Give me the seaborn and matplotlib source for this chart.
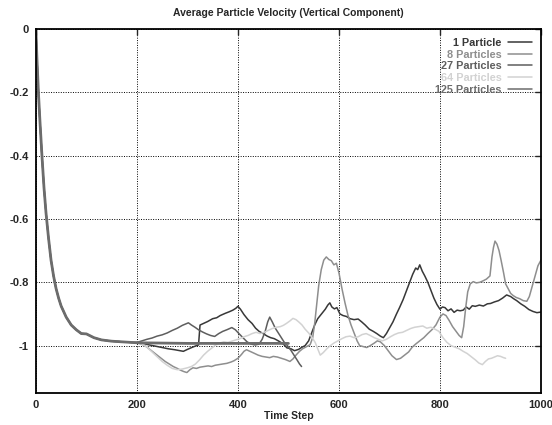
import matplotlib
matplotlib.use("Agg")
import matplotlib.pyplot as plt
import seaborn as sns
import numpy as np
import pandas as pd

# shared start-up transient (all runs coincide up to ~t=190)
decay_steps = [0, 2, 5, 8, 12, 16, 20, 25, 30, 35, 40, 45, 50, 60, 70, 80, 90,
               100, 115, 130, 150, 170, 190]
decay_vel = [0.0, -0.09, -0.2, -0.29, -0.4, -0.5, -0.58, -0.66, -0.73, -0.78,
             -0.82, -0.85, -0.875, -0.91, -0.935, -0.95, -0.962, -0.963,
             -0.975, -0.982, -0.986, -0.988, -0.99]

steps_1 = [200, 212, 225, 238, 250, 262, 275, 285, 292, 300, 310, 318, 322, 325,
           332, 340, 350, 358, 365, 375, 383, 390, 396, 400, 405, 412, 420, 428,
           435, 442, 450, 458, 465, 472, 480, 490, 497, 505, 512, 520, 527, 533,
           540, 546, 552, 558, 563, 568, 573, 578, 582, 586, 591, 596, 602, 608,
           615, 622, 630, 638, 645, 652, 660, 668, 675, 682, 688, 694, 700, 707,
           714, 720, 727, 733, 740, 746, 752, 756, 760, 765, 770, 776, 782, 788,
           794, 800, 805, 810, 816, 822, 828, 834, 840, 846, 852, 858, 864, 870,
           878, 886, 894, 900, 908, 916, 924, 932, 940, 946, 952, 960, 968, 976,
           984, 992, 1000]
vel_1 = [-0.990, -0.993, -0.998, -1.002, -1.006, -1.010, -1.013, -1.016, -1.018,
         -1.012, -1.005, -1.000, -0.998, -0.935, -0.930, -0.924, -0.915, -0.912,
         -0.905, -0.898, -0.893, -0.888, -0.882, -0.876, -0.885, -0.902, -0.918,
         -0.930, -0.945, -0.955, -0.962, -0.970, -0.975, -0.978, -0.985, -0.995,
         -1.007, -1.010, -1.016, -1.012, -1.005, -1.000, -0.985, -0.960, -0.935,
         -0.915, -0.905, -0.895, -0.885, -0.872, -0.865, -0.878, -0.884, -0.880,
         -0.900, -0.905, -0.908, -0.915, -0.918, -0.916, -0.925, -0.935, -0.948,
         -0.955, -0.962, -0.970, -0.975, -0.962, -0.945, -0.925, -0.900, -0.880,
         -0.855, -0.830, -0.800, -0.775, -0.755, -0.760, -0.745, -0.765, -0.780,
         -0.800, -0.825, -0.850, -0.870, -0.885, -0.878, -0.880, -0.890, -0.884,
         -0.895, -0.888, -0.890, -0.888, -0.878, -0.885, -0.874, -0.876, -0.872,
         -0.875, -0.868, -0.867, -0.862, -0.858, -0.850, -0.840, -0.845, -0.852,
         -0.858, -0.868, -0.876, -0.886, -0.892, -0.896, -0.894]

steps_8 = [200, 208, 216, 224, 232, 240, 248, 256, 264, 272, 280, 287, 293, 299,
           305, 311, 318, 325, 333, 341, 348, 355, 362, 370, 378, 386, 392, 400,
           407, 412, 417, 424, 432, 440, 448, 456, 463, 470, 478, 486, 494, 503,
           509, 515, 522, 528, 535, 543, 548, 552, 556, 560, 565, 570, 575, 580,
           585, 590, 595, 600, 606, 612, 618, 624, 630, 636, 641, 648, 655, 662,
           670, 676, 682, 690, 697, 705, 714, 722, 730, 738, 745, 752, 760, 768,
           776, 784, 792, 800, 806, 812, 818, 825, 832, 838, 843, 847, 851, 855,
           860, 866, 872, 879, 886, 892, 899, 903, 906, 909, 913, 917, 921, 926,
           930, 935, 940, 945, 951, 958, 965, 972, 977, 981, 985, 989, 994, 1000]
vel_8 = [-0.990, -0.995, -1.000, -1.010, -1.020, -1.030, -1.040, -1.050, -1.058,
         -1.066, -1.072, -1.078, -1.082, -1.085, -1.076, -1.070, -1.072, -1.068,
         -1.066, -1.064, -1.066, -1.062, -1.060, -1.058, -1.056, -1.052, -1.048,
         -1.040, -1.028, -1.018, -1.013, -1.018, -1.024, -1.030, -1.034, -1.036,
         -1.038, -1.034, -1.036, -1.040, -1.044, -1.050, -1.042, -1.030, -1.018,
         -1.010, -1.004, -0.997, -0.975, -0.930, -0.870, -0.810, -0.760, -0.730,
         -0.720, -0.728, -0.732, -0.745, -0.740, -0.770, -0.820, -0.865, -0.905,
         -0.935, -0.960, -0.985, -1.000, -1.003, -1.006, -1.000, -0.992, -0.985,
         -0.988, -1.000, -1.015, -1.032, -1.044, -1.040, -1.030, -1.020, -1.005,
         -0.995, -0.985, -0.975, -0.962, -0.950, -0.935, -0.910, -0.900, -0.905,
         -0.920, -0.940, -0.955, -0.968, -0.975, -0.940, -0.880, -0.830, -0.805,
         -0.798, -0.802, -0.800, -0.795, -0.790, -0.780, -0.720, -0.690, -0.670,
         -0.680, -0.700, -0.730, -0.770, -0.805, -0.820, -0.835, -0.842, -0.848,
         -0.852, -0.858, -0.860, -0.845, -0.822, -0.800, -0.775, -0.748, -0.730]

steps_27 = [200, 210, 220, 230, 240, 250, 260, 270, 280, 290, 296, 302, 308, 315,
            322, 330, 338, 346, 354, 362, 370, 378, 388, 395, 402, 410, 418, 426,
            434, 442, 448, 454, 459, 463, 468, 474, 480, 486, 492, 498, 505, 511,
            517, 522, 526]
vel_27 = [-0.990, -0.985, -0.980, -0.976, -0.970, -0.966, -0.960, -0.952, -0.945,
          -0.936, -0.932, -0.928, -0.935, -0.942, -0.950, -0.957, -0.963, -0.968,
          -0.971, -0.962, -0.955, -0.950, -0.943, -0.950, -0.962, -0.975, -0.988,
          -0.995, -0.998, -0.995, -0.980, -0.955, -0.925, -0.910, -0.925, -0.945,
          -0.960, -0.975, -0.990, -1.000, -1.015, -1.030, -1.045, -1.058, -1.066]

steps_64 = [200, 210, 220, 230, 240, 250, 260, 270, 280, 290, 300, 308, 316, 324,
            332, 340, 348, 356, 364, 372, 380, 388, 396, 404, 412, 420, 428, 436,
            444, 452, 460, 468, 476, 484, 490, 496, 503, 509, 515, 521, 527, 533,
            540, 547, 553, 558, 563, 569, 576, 583, 590, 598, 606, 614, 622, 630,
            638, 646, 654, 662, 670, 678, 686, 694, 702, 710, 718, 726, 734, 742,
            750, 758, 766, 774, 782, 790, 798, 806, 814, 822, 830, 838, 846, 854,
            862, 870, 877, 884, 890, 896, 902, 908, 914, 920, 926, 930]
vel_64 = [-0.990, -0.995, -1.005, -1.020, -1.035, -1.050, -1.062, -1.072, -1.076,
          -1.074, -1.070, -1.066, -1.058, -1.045, -1.030, -1.018, -1.008, -0.998,
          -0.992, -0.988, -0.990, -0.986, -0.982, -0.978, -0.972, -0.968, -0.962,
          -0.958, -0.962, -0.958, -0.952, -0.946, -0.942, -0.940, -0.936, -0.930,
          -0.922, -0.914, -0.918, -0.926, -0.935, -0.948, -0.960, -0.975, -0.990,
          -1.010, -1.030, -1.022, -1.010, -1.000, -0.992, -0.985, -0.978, -0.972,
          -0.970, -0.975, -0.972, -0.965, -0.962, -0.968, -0.975, -0.980, -0.985,
          -0.980, -0.972, -0.965, -0.960, -0.958, -0.952, -0.946, -0.942, -0.940,
          -0.938, -0.945, -0.942, -0.948, -0.955, -0.975, -0.990, -1.000, -1.005,
          -1.010, -1.018, -1.025, -1.035, -1.045, -1.055, -1.060, -1.050, -1.042,
          -1.040, -1.036, -1.032, -1.034, -1.038, -1.040]

steps_125 = [200, 250, 300, 350, 400, 450, 500]
vel_125 = [-0.991, -0.992, -0.993, -0.993, -0.993, -0.993, -0.993]

labels = ["1 Particle", "8 Particles", "27 Particles", "64 Particles", "125 Particles"]
colors = ["#383838", "#8e8e8e", "#5e5e5e", "#d2d2d2", "#6c6c6c"]
x_ticks = [0, 200, 400, 600, 800, 1000]
y_ticks = [0, -0.2, -0.4, -0.6, -0.8, -1]

frames = []
for lab, st, vl in zip(labels,
                       [steps_1, steps_8, steps_27, steps_64, steps_125],
                       [vel_1, vel_8, vel_27, vel_64, vel_125]):
    frames.append(pd.DataFrame({"step": decay_steps + st,
                                "velocity": decay_vel + vl,
                                "series": lab}))
df = pd.concat(frames, ignore_index=True)

sns.set_theme(style="white")
plt.rcParams["font.family"] = ["Liberation Sans", "DejaVu Sans"]
plt.rcParams["font.weight"] = "bold"

fig = plt.figure(figsize=(5.52, 4.25), dpi=100)
ax = fig.add_axes([0.065, 0.075, 0.915, 0.857])

sns.lineplot(data=df, x="step", y="velocity", hue="series", hue_order=labels,
             palette=dict(zip(labels, colors)), estimator=None, sort=False,
             linewidth=1.1, ax=ax)
# the 125-particle run is drawn heavier in the original
ax.lines[4].set_linewidth(2.0)

ax.set_xlim(0, 1000)
ax.set_ylim(-1.15, 0)
ax.set_xticks(x_ticks)
ax.set_xticklabels([str(t) for t in x_ticks])
ax.set_yticks(y_ticks)
ax.set_yticklabels(["0", "-0.2", "-0.4", "-0.6", "-0.8", "-1"])
ax.grid(True, color="black", linestyle=(0, (1, 1.5)), linewidth=0.7)
ax.tick_params(direction="in", top=True, right=True, length=4, width=1,
               labelsize=8, pad=5)
for sp in ax.spines.values():
    sp.set_color("black")
    sp.set_linewidth(1.3)

ax.set_title("Average Particle Velocity (Vertical Component)", fontsize=7.5,
             fontweight="bold", pad=9)
ax.set_xlabel("Time Step", fontsize=7.5, fontweight="bold", labelpad=1)
ax.set_ylabel("")

handles, labs = ax.get_legend_handles_labels()
for h in handles:
    h.set_linewidth(1.1)
ax.legend(handles, labs, loc="upper right", bbox_to_anchor=(0.982, 0.975),
          frameon=False, markerfirst=False, labelcolor="linecolor",
          fontsize=7.8, handlelength=2.2, handletextpad=0.6, labelspacing=0.15,
          borderpad=0, borderaxespad=0)

fig.savefig("out.png", dpi=100)
